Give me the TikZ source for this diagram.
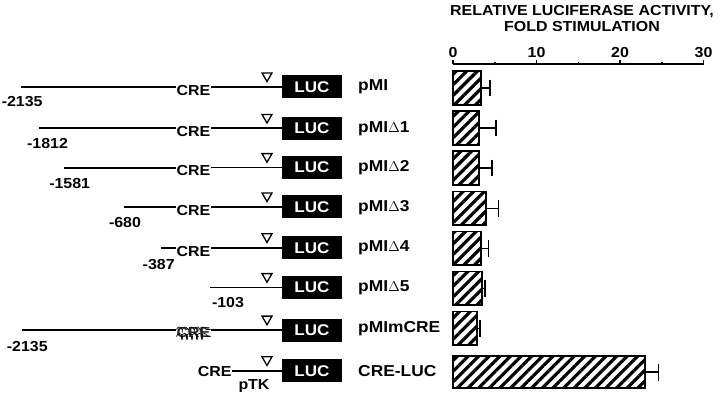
\documentclass[tikz,border=0pt]{standalone}
\usepackage{fontspec}
\setmainfont{Liberation Sans}[FakeStretch=1.1]
\usetikzlibrary{patterns.meta,decorations.pathmorphing,shapes.geometric}
\begin{document}
\begin{tikzpicture}[x=1pt,y=-1pt,
  font=\bfseries\fontsize{14.5}{16}\selectfont,
  luc/.style={fill=black,text=white,minimum width=60pt,minimum height=23pt,inner sep=0pt,font=\bfseries\fontsize{15.5}{17}\selectfont},
  lab/.style={anchor=west,inner sep=0pt,font=\bfseries\fontsize{15.8}{17}\selectfont},
  num/.style={inner sep=0pt},
  crebox/.style={inner sep=0pt},
  dnaline/.style={line width=2pt},
  dnaright/.style={line width=1.7pt},
  tri/.style={draw,regular polygon,regular polygon sides=3,shape border rotate=180,minimum size=11.5pt,inner sep=0pt,line width=1.3pt},
  barbox/.style={draw,line width=1.8pt,pattern={Lines[angle=45,distance=7.5pt,line width=3.2pt]}},
  errbar/.style={line width=1.6pt},
  axisline/.style={line width=1.7pt},
  tick/.style={line width=1.5pt}]
\useasboundingbox (0,0) rectangle (720,400);

% ---------- title and axis ----------
\node[anchor=base,inner sep=0pt] (title1) at (582,15) {RELATIVE LUCIFERASE ACTIVITY,};
\node[anchor=base,inner sep=0pt] (title2) at (582,31.7) {FOLD STIMULATION};
\coordinate (ax0) at (453,64);
\coordinate (ax30) at (703.5,64);
\draw[axisline] (ax0) -- (ax30);
\foreach \v/\t in {0/0,10/10,20/20,30/30}{
  \draw[tick] (453+8.35*\v,64) -- (453+8.35*\v,59.5);
  \node[anchor=base,inner sep=0pt] (tl\v) at (453+8.35*\v,57.3) {\t};
}
\foreach \v in {5,15,25}{
  \draw[tick] (453+8.35*\v,64) -- (453+8.35*\v,61.5);
}

% ---------- constructs ----------
% row 1 pMI
\node[luc] (luc1) at (312,86.8) {LUC};
\node[lab] (n1) at (358,87) {pMI};
\node[crebox] (cre1) at (193.5,90.3) {CRE};
\coordinate (s1) at (20.7,86.8);
\draw[dnaline] (s1) -- (s1 -| cre1.west);
\draw[dnaright] (s1 -| cre1.east) -- (luc1.west);
\node[tri] (t1) at (267,75.8) {};
\node[num] (p1) at (22.2,101.7) {-2135};

% row 2 pMIΔ1
\node[luc] (luc2) at (312,128.3) {LUC};
\node[lab] (n2) at (358,128.3) {pMI$\Delta$1};
\node[crebox] (cre2) at (193.5,131.8) {CRE};
\coordinate (s2) at (39.3,128.3);
\draw[dnaline] (s2) -- (s2 -| cre2.west);
\draw[dnaright] (s2 -| cre2.east) -- (luc2.west);
\node[tri] (t2) at (267,117.3) {};
\node[num] (p2) at (47.5,143.5) {-1812};

% row 3 pMIΔ2
\node[luc] (luc3) at (312,167.5) {LUC};
\node[lab] (n3) at (358,168) {pMI$\Delta$2};
\node[crebox] (cre3) at (193.5,171) {CRE};
\coordinate (s3) at (64,167.5);
\draw[dnaline] (s3) -- (s3 -| cre3.west);
\draw[dnaright] (s3 -| cre3.east) -- (luc3.west);
\node[tri] (t3) at (267,156.5) {};
\node[num] (p3) at (69.7,183.5) {-1581};

% row 4 pMIΔ3
\node[luc] (luc4) at (312,206.8) {LUC};
\node[lab] (n4) at (358,208) {pMI$\Delta$3};
\node[crebox] (cre4) at (193.5,210.3) {CRE};
\coordinate (s4) at (124,206.8);
\draw[dnaline] (s4) -- (s4 -| cre4.west);
\draw[dnaright] (s4 -| cre4.east) -- (luc4.west);
\node[tri] (t4) at (267,195.8) {};
\node[num] (p4) at (125,222.7) {-680};

% row 5 pMIΔ4
\node[luc] (luc5) at (312,247.7) {LUC};
\node[lab] (n5) at (358,248) {pMI$\Delta$4};
\node[crebox] (cre5) at (193.5,251.2) {CRE};
\coordinate (s5) at (160.7,247.7);
\draw[dnaline] (s5) -- (s5 -| cre5.west);
\draw[dnaright] (s5 -| cre5.east) -- (luc5.west);
\node[tri] (t5) at (267,236.7) {};
\node[num] (p5) at (158.7,265) {-387};

% row 6 pMIΔ5
\node[luc] (luc6) at (312,287.5) {LUC};
\node[lab] (n6) at (358,288) {pMI$\Delta$5};
\coordinate (s6) at (210,287.5);
\draw[dnaright] (s6) -- (luc6.west);
\node[tri] (t6) at (267,276.5) {};
\node[num] (p6) at (228,302.5) {-103};

% row 7 pMImCRE
\node[luc] (luc7) at (312,330) {LUC};
\node[lab] (n7) at (358,329) {pMImCRE};
\node[crebox,text=black!85] (cre7) at (193.5,332.5) {CRE};
\coordinate (s7) at (21.7,330);
\draw[dnaline] (s7) -- (s7 -| cre7.west);
\draw[dnaright] (s7 -| cre7.east) -- (luc7.west);
\draw[line width=0.7pt,decorate,decoration={coil,amplitude=3pt,segment length=5pt,aspect=0.6}]
  ([yshift=-4pt]cre7.west) -- ([yshift=-4pt]cre7.east);
\draw[line width=0.6pt,decorate,decoration={coil,amplitude=2.5pt,segment length=6pt,aspect=0.5}]
  ([yshift=3pt]cre7.west) -- ([yshift=3pt]cre7.east);
\node[tri] (t7) at (267,319) {};
\node[num] (p7) at (27.3,346.7) {-2135};

% row 8 CRE-LUC
\node[luc] (luc8) at (312,370.7) {LUC};
\node[lab] (n8) at (358,371) {CRE-LUC};
\node[crebox] (cre8) at (214.7,371.5) {CRE};
\draw[dnaright] (cre8.east |- luc8.west) -- (luc8.west);
\node[tri] (t8) at (267,359.7) {};
\node[num] (ptk) at (254,386) {pTK};

% ---------- bars ----------
\foreach \r/\e/\c/\h in {481/490/88/33.5, 479.3/495.7/128/33.5, 479.3/491.7/168/33.5,
  486/498.3/208.3/33.5, 481/488.3/248.3/33.5, 481.7/485/288.3/33.5,
  477.3/480/328.3/33.5, 645/658.3/372.2/32}{
  \draw[barbox] (452.7,\c-\h/2) rectangle (\r,\c+\h/2);
  \draw[errbar] (\r,\c) -- (\e,\c);
  \draw[errbar] (\e,\c-8.3) -- (\e,\c+8.3);
}
\end{tikzpicture}
\end{document}
